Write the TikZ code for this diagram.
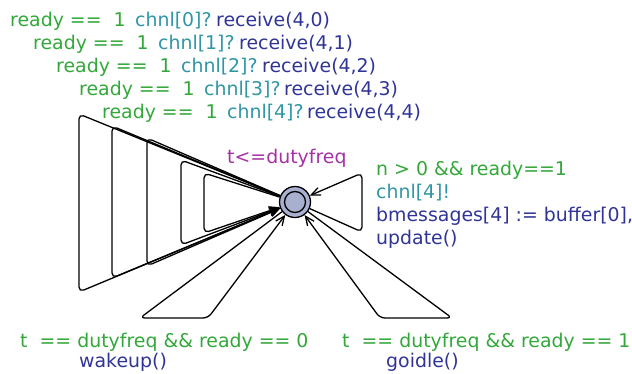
\documentclass[tikz,border=0pt]{standalone}
\usepackage{fontspec}
\setmainfont{DejaVu Sans}
\usetikzlibrary{arrows.meta}
\definecolor{guardc}{RGB}{51,168,58}
\definecolor{syncc}{RGB}{48,150,165}
\definecolor{updc}{RGB}{48,52,150}
\definecolor{invc}{RGB}{165,50,165}
\definecolor{locfill}{RGB}{168,176,207}
\begin{document}
\begin{tikzpicture}[x=1pt,y=-1pt,
  lbl/.style={anchor=base west, inner sep=0pt, font=\fontsize{18.9}{22}\selectfont},
  guard/.style={lbl, text=guardc},
  sync/.style={lbl, text=syncc},
  upd/.style={lbl, text=updc},
  inv/.style={lbl, text=invc},
  trans/.style={line width=1.3pt, rounded corners=5pt, -{Straight Barb[length=9pt,width=8pt]}},
  loc/.style={circle, draw, line width=1.3pt, fill=locfill, minimum size=31pt, inner sep=0pt},
  locin/.style={circle, draw, line width=1.3pt, minimum size=21pt, inner sep=0pt}]
\useasboundingbox (0,0) rectangle (632,373);

% the location
\node[loc] (L) at (295,202) {};
\node[locin] (Li) at (295,202) {};

% nails of the receive loops
\coordinate (a1) at (79,114);  \coordinate (b1) at (79,292);
\coordinate (a2) at (112,126); \coordinate (b2) at (112,278);
\coordinate (a3) at (147,138); \coordinate (b3) at (147,266);
\coordinate (a4) at (181,160); \coordinate (b4) at (181,245);
\coordinate (a5) at (204,173); \coordinate (b5) at (204,233);
% nails of the send loop and the two timer loops
\coordinate (s1) at (362,232); \coordinate (s2) at (362,173);
\coordinate (w1) at (208,318); \coordinate (w2) at (140,318);
\coordinate (g1) at (452,318); \coordinate (g2) at (380,318);

\foreach \i in {1,...,5}{
  \draw[trans] (L) -- (a\i) -- (b\i) -- (L);
}
\draw[trans] (L) -- (s1) -- (s2) -- (L);
\draw[trans] (L) -- (w2) -- (w1) -- (L);
\draw[trans] (L) -- (g1) -- (g2) -- (L);

% receive labels
\node[guard] (r0g) at (10,26)  {ready ==~~1};
\node[sync]  (r0s) at (135,26) {chnl[0]?};
\node[upd]   (r0u) at (216,26) {receive(4,0)};
\node[guard] (r1g) at (33,49)  {ready ==~~1};
\node[sync]  (r1s) at (158,49) {chnl[1]?};
\node[upd]   (r1u) at (239,49) {receive(4,1)};
\node[guard] (r2g) at (56,72)  {ready ==~~1};
\node[sync]  (r2s) at (181,72) {chnl[2]?};
\node[upd]   (r2u) at (262,72) {receive(4,2)};
\node[guard] (r3g) at (79,95)  {ready ==~~1};
\node[sync]  (r3s) at (204,95) {chnl[3]?};
\node[upd]   (r3u) at (284,95) {receive(4,3)};
\node[guard] (r4g) at (102,118) {ready ==~~1};
\node[sync]  (r4s) at (227,118) {chnl[4]?};
\node[upd]   (r4u) at (307,118) {receive(4,4)};

% invariant
\node[inv] (iv) at (227,163) {t<=dutyfreq};

% send labels
\node[guard] (sg)  at (376,175) {n > 0 \&\& ready==1};
\node[sync]  (ss)  at (376,198) {chnl[4]!};
\node[upd]   (su1) at (376,221) {bmessages[4] := buffer[0],};
\node[upd]   (su2) at (376,244) {update()};

% timer labels
\node[guard] (wg) at (20,347)  {t~~== dutyfreq \&\& ready == 0};
\node[upd]   (wu) at (79,367)  {wakeup()};
\node[guard] (gg) at (342,347) {t~~== dutyfreq \&\& ready == 1};
\node[upd]   (gu) at (386,367) {goidle()};
\end{tikzpicture}
\end{document}
